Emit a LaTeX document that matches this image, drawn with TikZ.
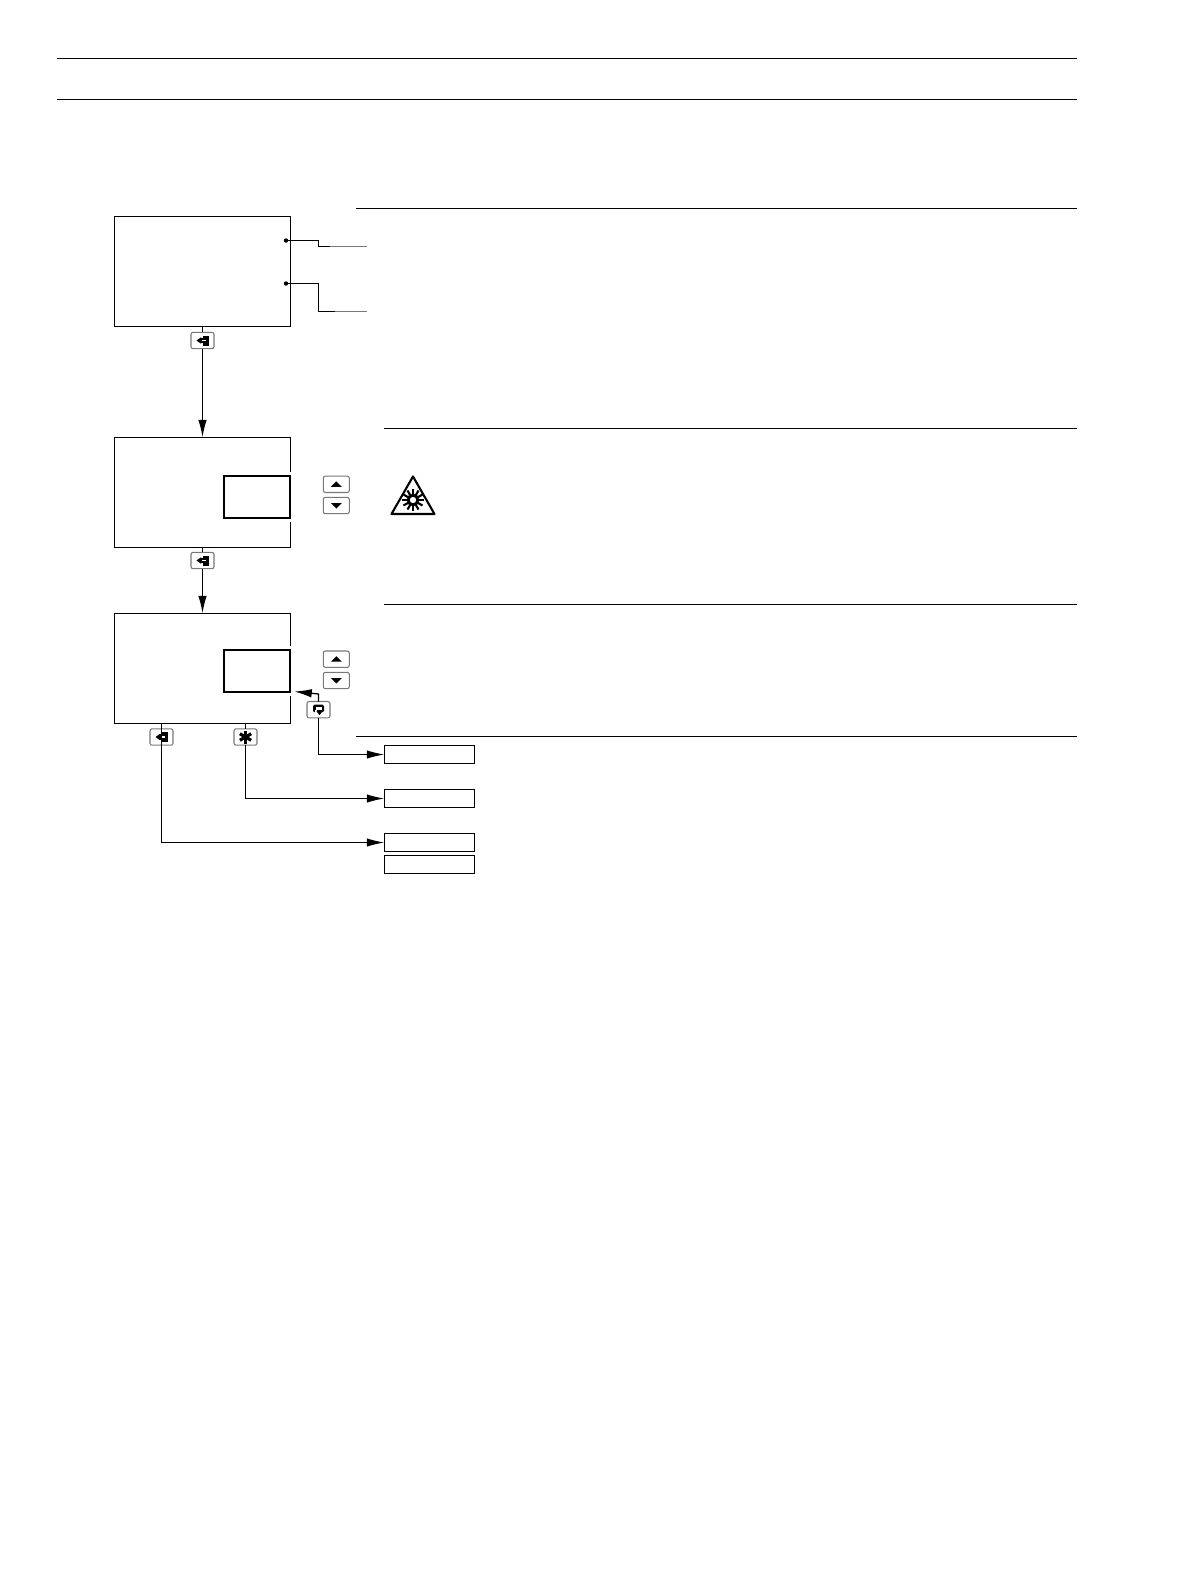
\documentclass[tikz,border=0pt]{standalone}
\usetikzlibrary{arrows.meta,calc}
\definecolor{keyG}{RGB}{120,120,120}
\tikzset{
  panel/.style={minimum width=1.764cm,minimum height=1.10cm,inner sep=0pt,outer sep=0pt},
  inset/.style={draw,line width=.6pt,minimum width=.66cm,minimum height=.42cm,inner sep=0pt,outer sep=0pt},
  keycap/.style={draw=keyG,line width=.3pt,rounded corners=.6pt,fill=white,minimum width=.23cm,minimum height=.164cm,inner sep=0pt,outer sep=0pt},
  arrowkey/.style={keycap,minimum width=.26cm},
  result/.style={draw,minimum width=.9cm,minimum height=.18cm,inner sep=0pt,outer sep=0pt},
  rule/.style={line width=.33pt}
}
\newcommand{\enterglyph}[1]{\begin{scope}[shift={(#1.center)}]
  \fill (-2.5,-5) rectangle (6.5,5);
  \fill[white] (-3,-5.2)--(0,-5.2)--(0,-2.6)--(-3,-2.6)--cycle;
  \fill[white] (-3,2.6)--(0,2.6)--(0,5.2)--(-3,5.2)--cycle;
  \draw[white,line width=.35pt] (-1,0)--(3,0);
  \fill (-6,0)--(-1.5,-3.2)--(-1.5,3.2)--cycle;
\end{scope}}
\newcommand{\returnglyph}[1]{\begin{scope}[shift={(#1.center)}]
  \fill[rounded corners=.4pt] (-5.5,-5) rectangle (5.5,2.5);
  \fill[white] (-3,-3) rectangle (3,.3);
  \fill[white] (-4,.3) rectangle (-1.5,2.8);
  \fill (1,5.5)--(-2,1.5)--(4,1.5)--cycle;
\end{scope}}
\newcommand{\starglyph}[1]{\foreach \a in {90,150,...,390}
  \draw[line width=.9pt] (#1.center) -- ++(\a:6.5);}
\newcommand{\upglyph}[1]{\fill ($(#1)+(-5.5,2.5)$)--($(#1)+(5.5,2.5)$)--($(#1)+(0,-3)$)--cycle;}
\newcommand{\downglyph}[1]{\fill ($(#1)+(-5.5,-2.5)$)--($(#1)+(5.5,-2.5)$)--($(#1)+(0,3)$)--cycle;}

\begin{document}
\begin{tikzpicture}[x=0.01cm,y=-0.01cm,line width=.36pt,>={Latex[length=1.75mm,width=.85mm]}]
\useasboundingbox (0,0) rectangle (1190,1584);
% page and section rules
\draw[rule] (56.6,58.5)--(1077,58.5);
\draw[rule] (56.6,99.5)--(1077,99.5);
\draw[rule] (356,208.5)--(1077,208.5);
\draw[rule] (384,428.5)--(1077,428.5);
\draw[rule] (384,604.5)--(1077,604.5);
\draw[rule] (356,736.5)--(1077,736.5);
% panels
\node[panel,draw] (scrA) at (202.5,271.3) {};
\node[panel] (scrB) at (202.5,492.3) {};
\node[panel] (scrC) at (202.5,668.3) {};
\node[inset] (inB) at (257,497) {};
\node[inset] (inC) at (257,671) {};
% panel outlines stop short of the inset
\draw ($(scrB.north east)+(0,34.4)$)--(scrB.north east)--(scrB.north west)--(scrB.south west)--(scrB.south east)--($(scrB.south east)+(0,-25.6)$);
\draw ($(scrC.north east)+(0,32.4)$)--(scrC.north east)--(scrC.north west)--(scrC.south west)--(scrC.south east)--($(scrC.south east)+(0,-27.6)$);
% keys
\node[keycap] (keyA) at (202.5,340.5) {};
\node[keycap] (keyB) at (202.5,560.5) {};
\node[keycap] (keyC) at (161.5,737) {};
\node[keycap] (keyS) at (245.5,737) {};
\node[keycap] (keyR) at (318.5,709.7) {};
\node[arrowkey] (upB) at (336.3,484.3) {};
\node[arrowkey] (dnB) at (336.3,505.5) {};
\node[arrowkey] (upC) at (336.3,659.2) {};
\node[arrowkey] (dnC) at (336.3,680.5) {};
\enterglyph{keyA}
\enterglyph{keyB}
\enterglyph{keyC}
\returnglyph{keyR}
\starglyph{keyS}
\upglyph{upB}
\downglyph{dnB}
\upglyph{upC}
\downglyph{dnC}
% result boxes
\node[result] (resA) at (429.3,754.5) {};
\node[result] (resB) at (429.3,798.5) {};
\node[result] (resC) at (429.3,842.5) {};
\node[result] (resD) at (429.3,864.5) {};
% leaders from the first panel
\coordinate (dotA) at (286,240.5);
\coordinate (dotB) at (286,283.5);
\coordinate (leadA) at (366.7,246.5);
\coordinate (leadB) at (366.7,311.5);
\fill (dotA) circle (2.2);
\fill (dotB) circle (2.2);
\draw (dotA)--(318.5,240.5)--(318.5,246.5)--(330,246.5);
\draw[keyG] (330,246.5)--(leadA);
\draw (dotB)--(318.5,283.5)--(318.5,311.5)--(335,311.5);
\draw[keyG] (335,311.5)--(leadB);
% flow
\draw (scrA.south)--(keyA.north);
\draw[->] (keyA.south)--(scrB.north);
\draw (scrB.south)--(keyB.north);
\draw[->] (keyB.south)--(scrC.north);
\coordinate (backTip) at (294.3,691.5);
\draw[->] (keyR.north)--($(keyR.north)+(0,-7.5)$)--(backTip);
\draw[->] (keyR.south)|-(resA.west);
\draw (scrC.south -| keyS)--(keyS.north);
\draw[->] (keyS.south)|-(resB.west);
\draw[->] (scrC.south -| keyC)|-(resC.west);
% warning sign
\draw[line width=.6pt,line join=round] (413,476.5)--(434.5,514)--(391.5,514)--cycle;
\draw[line width=.8pt] (413,500) circle (4.8);
\foreach \a in {0,30,...,330}
  \draw[line width=.6pt] (413,500)++(\a:5.5)--++(\a:5.5);
\end{tikzpicture}
\end{document}
